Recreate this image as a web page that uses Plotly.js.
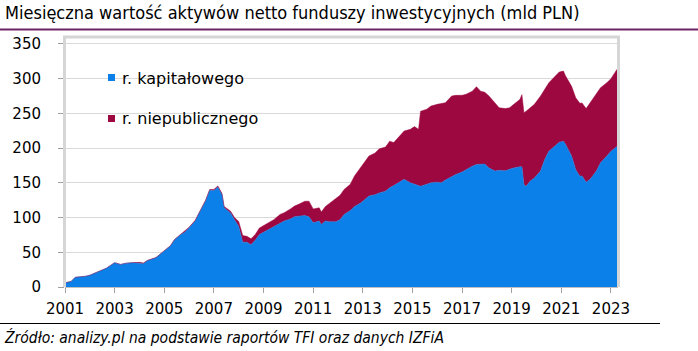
<!DOCTYPE html>
<html><head><meta charset="utf-8">
<script src="https://cdn.plot.ly/plotly-3.0.1.min.js"></script>
<style>html,body{margin:0;padding:0;background:#fff}#chart{width:698px;height:351px}</style>
</head><body><div id="chart"></div>
<script>
const titleText = 'Miesięczna wartość aktywów netto funduszy inwestycyjnych (mld PLN)';
const sourceText = 'Źródło: analizy.pl na podstawie raportów TFI oraz danych IZFiA';
const seriesNames = ['r. kapitałowego', 'r. niepublicznego'];

const months = [
 '2001-01','2001-04','2001-06','2001-08','2001-11','2002-01','2002-04','2002-06','2002-09','2002-11',
 '2003-01','2003-04','2003-06','2003-09','2004-01','2004-03','2004-05','2004-09','2004-11','2005-01',
 '2005-04','2005-06','2005-09','2005-11','2006-01','2006-04','2006-06','2006-09','2006-11','2007-01',
 '2007-03','2007-05','2007-06','2007-09','2007-11','2008-01','2008-03','2008-05','2008-07','2008-09',
 '2008-11','2009-02','2009-04','2009-06','2009-09','2009-11','2010-02','2010-04','2010-06','2010-09',
 '2010-11','2011-01','2011-04','2011-05','2011-07','2011-09','2011-12','2012-02','2012-04','2012-07',
 '2012-09','2012-12','2013-02','2013-04','2013-07','2013-09','2013-12','2014-02','2014-04','2014-07',
 '2014-09','2014-12','2015-02','2015-04','2015-05','2015-08','2015-10','2016-01','2016-03','2016-05',
 '2016-08','2016-10','2017-01','2017-03','2017-06','2017-08','2017-10','2017-12','2018-02','2018-05',
 '2018-07','2018-10','2018-12','2019-02','2019-05','2019-06','2019-07','2019-08','2019-10','2019-12',
 '2020-03','2020-05','2020-07','2020-10','2020-12','2021-02','2021-03','2021-06','2021-08','2021-10',
 '2021-11','2022-01','2022-03','2022-06','2022-08','2022-11','2023-01','2023-04'
];

const kapitalowe = [
 6,8,14,14.5,15.5,17,20.5,24,27,31,
 35,32.5,34,35,35,34,38,42,47,51.5,
 59,68,75.5,79,85,95,107,124,139.5,139,
 144,133,114,107,97,87.5,64.5,64.5,61,67.5,
 75.5,80.5,84,87.5,92.5,95,98,101,102,103,
 101,92.5,95,90,95,94,94,97,104.5,110,
 116,121,126,131,133,135.5,138,143,146,151,
 155,150,148,147,145,148,150,151,150,154,
 159.5,162,165.5,169,174,176.5,176.5,177,171.5,167,
 168,167.5,169.5,171.5,173,173,147.5,145,152.5,157,
 167,183.5,195.5,203,208.5,210,206,188.5,169,159.5,
 160,151,155,167,179,188.5,195.5,202.5
];

const niepubliczne = [
 0,0,0,0,0,0,0,0,0,0,
 0,0,0,0,0.5,0.5,0.5,0.5,0.5,0.5,
 0.5,0.5,0.5,1,1,1,1,1,1,1.5,
 1.5,1.5,2,2.5,3,7,9.5,8.5,8.5,8,
 9.5,9.5,10,9.5,12,12,14.5,15.5,17,20.5,
 22.5,20,19,18,21,27,33,35,36,38,
 44,51,55,57.5,60,63.5,63.5,67,62,66,
 69.5,77,83,80,108,108,110.5,112,114.5,111.5,
 115.5,114,110.5,108.5,108,112,105.5,103.5,103.5,98.5,
 90,89.5,88.5,91.5,97,104,103.5,108,105.5,106,
 108,102,98.5,100.5,101,101,98.5,100.5,103.5,105,
 105,106,110.5,110.5,108,105.5,104.5,111
];

const tickYears = ['2001','2003','2005','2007','2009','2011','2013','2015','2017','2019','2021','2023'];
const yTicks = [0,50,100,150,200,250,300,350];

const colBlue = '#0a80e8';
const colMaroon = '#9e0840';

const L = 65, R = 80, T = 37, B = 64, W = 698, H = 351;
const pw = W - L - R, ph = H - T - B;
const px = v => (v - L) / pw;
const py = v => (H - B - v) / ph;

const traces = [
 {x: months, y: kapitalowe, name: seriesNames[0], type: 'scatter', mode: 'lines', stackgroup: 'one',
  line: {width: 0.5, color: colBlue}, fillcolor: colBlue, hoverinfo: 'skip'},
 {x: months, y: niepubliczne, name: seriesNames[1], type: 'scatter', mode: 'lines', stackgroup: 'one',
  line: {width: 0.5, color: colMaroon}, fillcolor: colMaroon, hoverinfo: 'skip'}
];

const sansNarrow = 'Liberation Sans Narrow, Arial Narrow, DejaVu Sans Condensed, sans-serif';

const layout = {
 width: W, height: H,
 margin: {l: L, r: R, t: T, b: B, pad: 0},
 paper_bgcolor: '#ffffff', plot_bgcolor: '#ffffff',
 showlegend: false,
 title: {text: titleText, xref: 'container', yref: 'container', x: 5 / W, xanchor: 'left',
   y: 1 - 13 / H, yanchor: 'middle', font: {family: sansNarrow, size: 18, color: '#000'}},
 xaxis: {type: 'date', range: ['2001-01-01', '2023-04-15'],
   tickmode: 'array', tickvals: tickYears.map(y => y + '-01-01'), ticktext: tickYears,
   ticks: 'outside', ticklen: 5, tickcolor: '#a0a0a0', tickwidth: 1,
   showline: true, linecolor: '#bfbfbf', linewidth: 1, showgrid: false, zeroline: false,
   tickfont: {family: 'DejaVu Sans', size: 15, color: '#000'}, ticklabelstandoff: 3},
 yaxis: {range: [0, 360], tickmode: 'array', tickvals: yTicks,
   ticks: 'outside', ticklen: 6, tickcolor: '#a0a0a0', tickwidth: 1,
   showline: false, showgrid: true, gridcolor: '#d9d9d9', gridwidth: 1, zeroline: false,
   tickfont: {family: 'DejaVu Sans', size: 15, color: '#000'}, ticklabelstandoff: 14},
 shapes: [
  {type: 'path', xref: 'paper', yref: 'paper', layer: 'above',
   path: `M ${px(64.5)} ${py(287)} L ${px(64.5)} ${py(37)} L ${px(618.5)} ${py(37)} L ${px(618.5)} ${py(287)}`,
   line: {color: '#d6d6d6', width: 3}},
  {type: 'line', xref: 'paper', yref: 'paper', x0: px(0), x1: px(698), y0: py(29.5), y1: py(29.5),
   line: {color: '#6e2466', width: 2}},
  {type: 'line', xref: 'paper', yref: 'paper', x0: px(0), x1: px(660), y0: py(323.5), y1: py(323.5),
   line: {color: '#000', width: 1}},
  {type: 'rect', xref: 'paper', yref: 'paper', x0: px(108), x1: px(115), y0: py(81), y1: py(74),
   fillcolor: colBlue, line: {width: 0}},
  {type: 'rect', xref: 'paper', yref: 'paper', x0: px(108), x1: px(115), y0: py(122), y1: py(115),
   fillcolor: colMaroon, line: {width: 0}}
 ],
 annotations: [
  {xref: 'paper', yref: 'paper', x: px(120), y: py(78), xanchor: 'left', yanchor: 'middle',
   text: seriesNames[0], showarrow: false, font: {family: 'DejaVu Sans', size: 16, color: '#000'}},
  {xref: 'paper', yref: 'paper', x: px(120), y: py(118.5), xanchor: 'left', yanchor: 'middle',
   text: seriesNames[1], showarrow: false, font: {family: 'DejaVu Sans', size: 16, color: '#000'}},
  {xref: 'paper', yref: 'paper', x: px(2), y: py(337), xanchor: 'left', yanchor: 'middle',
   text: '<i>' + sourceText + '</i>', showarrow: false, font: {family: sansNarrow, size: 15.5, color: '#000'}}
 ]
};

Plotly.newPlot('chart', traces, layout, {staticPlot: true, displayModeBar: false});
</script>
</body></html>
